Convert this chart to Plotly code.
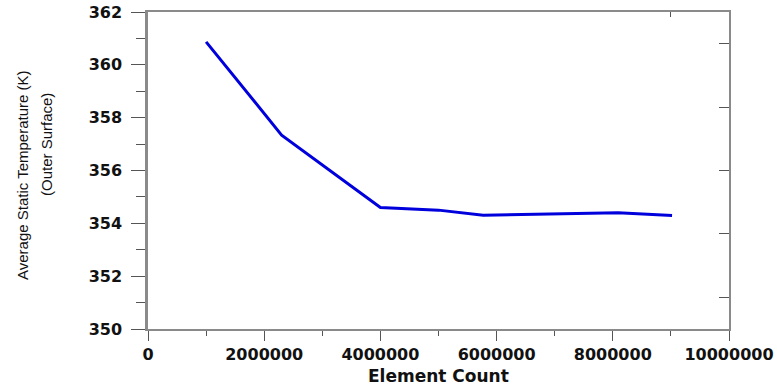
import plotly.graph_objects as go

element_count = [1000000, 2300000, 4000000, 5000000, 5770000, 8090000, 9020000]
avg_temp = [360.87, 357.34, 354.60, 354.50, 354.31, 354.40, 354.30]

x_tickvals = [0, 2000000, 4000000, 6000000, 8000000, 10000000]
x_ticktext = ["0", "2000000", "4000000", "6000000", "8000000", "10000000"]
y_tickvals = [350, 352, 354, 356, 358, 360, 362]

W, H = 777, 387
L, R, T, B = 148, 48, 12, 58
PW, PH = W - L - R, H - T - B

tick_font = dict(family="DejaVu Sans", size=16, color="#111111", weight="bold")
axis_col = "#8a8a8a"
tick_col = "#555555"
ytitle_font = dict(family="Liberation Sans Narrow, Liberation Sans, Arial Narrow", size=15, color="#111111")

fig = go.Figure()
fig.add_trace(go.Scatter(
    x=element_count, y=avg_temp, mode="lines",
    line=dict(color="#0000dd", width=3), showlegend=False, hoverinfo="skip"))
# invisible trace to host the secondary (mirror) axes
fig.add_trace(go.Scatter(x=[0], y=[0], xaxis="x2", yaxis="y2", mode="markers",
                         marker=dict(opacity=0), showlegend=False, hoverinfo="skip"))

fig.update_layout(
    width=W, height=H,
    margin=dict(l=L, r=R, t=T, b=B, autoexpand=False),
    paper_bgcolor="white", plot_bgcolor="white",
    xaxis=dict(
        range=[0, 10000000], tickvals=x_tickvals, ticktext=x_ticktext,
        ticks="outside", ticklen=10, tickwidth=1, tickcolor=tick_col,
        minor=dict(dtick=1000000, tick0=0, ticks="outside", ticklen=5, tickcolor=tick_col),
        showline=True, linecolor=axis_col, linewidth=1.5, automargin=False,
        showgrid=False, zeroline=False, tickfont=tick_font, ticklabeloverflow="allow",
    ),
    yaxis=dict(
        range=[350, 362], tickvals=y_tickvals,
        ticks="outside", ticklen=14, tickwidth=1, tickcolor=tick_col,
        minor=dict(dtick=1, tick0=350, ticks="outside", ticklen=9, tickcolor=tick_col),
        showline=True, linecolor=axis_col, linewidth=2.5, automargin=False,
        showgrid=False, zeroline=False, tickfont=tick_font, ticklabeloverflow="allow",
        ticklabelstandoff=6,
    ),
    xaxis2=dict(
        overlaying="x", side="top", range=[0, 10000000], tickvals=[9000000],
        ticks="inside", ticklen=5, tickcolor=tick_col, showticklabels=False,
        showline=True, linecolor=axis_col, linewidth=1.5, showgrid=False, zeroline=False,
        automargin=False,
    ),
    yaxis2=dict(
        overlaying="y", side="right", range=[0, 1], tickvals=[0.1, 0.3, 0.5, 0.7, 0.9],
        ticks="inside", ticklen=10, tickcolor=tick_col, showticklabels=False,
        showline=True, linecolor=axis_col, linewidth=2, showgrid=False, zeroline=False,
        automargin=False,
    ),
    annotations=[
        dict(text="Average Static Temperature (K)", textangle=-90,
             xref="paper", yref="paper", x=(22 - L) / PW, y=(H - B - 175) / PH,
             xanchor="center", yanchor="middle", showarrow=False, font=ytitle_font),
        dict(text="(Outer Surface)", textangle=-90,
             xref="paper", yref="paper", x=(47 - L) / PW, y=(H - B - 145) / PH,
             xanchor="center", yanchor="middle", showarrow=False, font=ytitle_font),
        dict(text="Element Count", xref="paper", yref="paper",
             x=0.5, y=(H - B - 376) / PH, xanchor="center", yanchor="middle", showarrow=False,
             font=dict(family="DejaVu Sans", size=17, color="#111111", weight="bold")),
    ],
)

fig.write_html("out.html", config={"displayModeBar": False},
               post_script="document.body.style.margin='0';")
